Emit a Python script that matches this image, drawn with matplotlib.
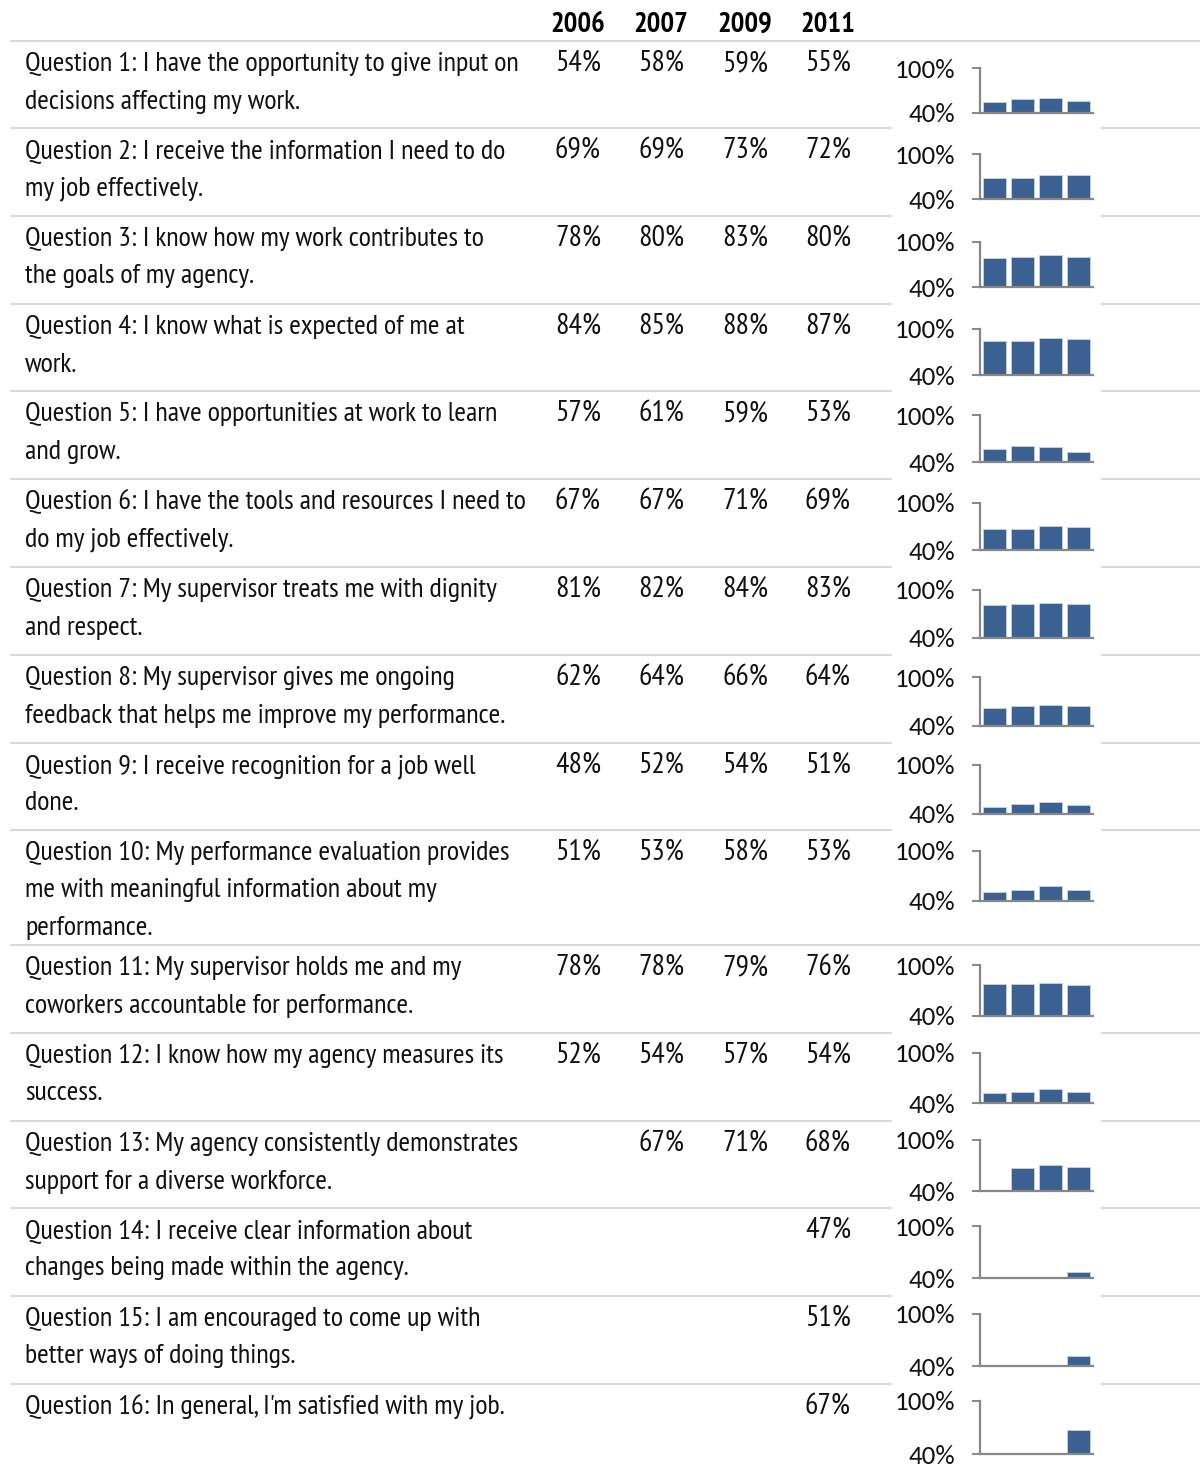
import matplotlib
matplotlib.use("Agg")
import matplotlib.pyplot as plt
from matplotlib import font_manager as fm
from matplotlib.textpath import TextPath
from matplotlib.font_manager import FontProperties

# ---------------- data ----------------
years = ["2006", "2007", "2009", "2011"]
questions = [
    "Question 1: I have the opportunity to give input on\ndecisions affecting my work.",
    "Question 2: I receive the information I need to do\nmy job effectively.",
    "Question 3: I know how my work contributes to\nthe goals of my agency.",
    "Question 4: I know what is expected of me at\nwork.",
    "Question 5: I have opportunities at work to learn\nand grow.",
    "Question 6: I have the tools and resources I need to\ndo my job effectively.",
    "Question 7: My supervisor treats me with dignity\nand respect.",
    "Question 8: My supervisor gives me ongoing\nfeedback that helps me improve my performance.",
    "Question 9: I receive recognition for a job well\ndone.",
    "Question 10: My performance evaluation provides\nme with meaningful information about my\nperformance.",
    "Question 11: My supervisor holds me and my\ncoworkers accountable for performance.",
    "Question 12: I know how my agency measures its\nsuccess.",
    "Question 13: My agency consistently demonstrates\nsupport for a diverse workforce.",
    "Question 14: I receive clear information about\nchanges being made within the agency.",
    "Question 15: I am encouraged to come up with\nbetter ways of doing things.",
    "Question 16: In general, I'm satisfied with my job.",
]
v2006 = [54, 69, 78, 84, 57, 67, 81, 62, 48, 51, 78, 52, None, None, None, None]
v2007 = [58, 69, 80, 85, 61, 67, 82, 64, 52, 53, 78, 54, 67, None, None, None]
v2009 = [59, 73, 83, 88, 59, 71, 84, 66, 54, 58, 79, 57, 71, None, None, None]
v2011 = [55, 72, 80, 87, 53, 69, 83, 64, 51, 53, 76, 54, 68, 47, 51, 67]
series = [v2006, v2007, v2009, v2011]
y_min, y_max = 40, 100
y_tick_labels = ["40%", "100%"]

# ---------------- fonts ----------------
avail = {f.name for f in fm.fontManager.ttflist}
ref_line = "Question 1: I have the opportunity to give input on"
target_ratio = 493 / 21.0   # line width / cap height in the reference
cands = ["Fira Sans Extra Condensed", "Fira Sans Condensed", "Pragati Narrow",
         "Sofia Sans Condensed", "Sofia Sans Extra Condensed", "PT Sans Narrow",
         "Asap Condensed", "Roboto Condensed", "Open Sans Condensed",
         "Ubuntu Condensed", "Cabin Condensed", "Encode Sans Condensed",
         "Archivo Narrow", "IBM Plex Sans Condensed", "Liberation Sans Narrow"]
best, best_err = "DejaVu Sans", 1e9
for c in cands:
    if c not in avail:
        continue
    fp = FontProperties(family=c)
    w = TextPath((0, 0), ref_line, size=100, prop=fp).get_extents().width
    cap = TextPath((0, 0), "H", size=100, prop=fp).get_extents().height
    err = abs(w / cap - target_ratio)
    if err < best_err:
        best, best_err = c, err
qfont = best
tfont = next((f for f in ["Carlito", "Liberation Sans", "Arimo"] if f in avail), "DejaVu Sans")

# ---------------- layout (pixels) ----------------
W, H = 1200, 1465
fig = plt.figure(figsize=(W / 100, H / 100), dpi=100)
bg = fig.add_axes([0, 0, 1, 1])
bg.set_xlim(0, W)
bg.set_ylim(H, 0)
bg.axis("off")

def fit_size(s, family, target_w, weight="normal"):
    fp = FontProperties(family=family, weight=weight)
    w = TextPath((0, 0), s, size=72, prop=fp).get_extents().width
    return 72 * target_w / (w * 100 / 72)

qsize = fit_size(ref_line, qfont, 493)
hsize = fit_size("2006", qfont, 52, weight="bold")
vsize = fit_size("54%", qfont, 43)
tsize = fit_size("100%", tfont, 57)

header_line = 41
row_h = [87, 88, 88, 87, 88, 88, 88, 88, 87, 115, 88, 88, 87, 88, 88, 81]
tops = [header_line]
for h in row_h[:-1]:
    tops.append(tops[-1] + h)

col_x = [578, 661, 745, 828]
line_gap = 37.5
grid_col = "#d9d9d9"
bar_col = "#3A6192"
axis_col = "#878787"

for t in tops:
    bg.plot([10, W], [t, t], color=grid_col, lw=1.5, solid_capstyle="butt", zorder=1)

for x, yr in zip(col_x, years):
    bg.text(x, 32, yr, family=qfont, fontsize=hsize, weight="bold",
            ha="center", va="baseline", color="black")

for i, (q, T) in enumerate(zip(questions, tops)):
    for k, line in enumerate(q.split("\n")):
        bg.text(25, T + 30 + k * line_gap, line, family=qfont, fontsize=qsize,
                ha="left", va="baseline", color="#111111")
    for x, s in zip(col_x, series):
        if s[i] is not None:
            bg.text(x, T + 30, f"{s[i]}%", family=qfont, fontsize=vsize,
                    ha="center", va="baseline", color="#111111")
    bg.add_patch(plt.Rectangle((892, T + 4), 1101 - 892, 88, facecolor="white",
                               edgecolor="none", zorder=2))
    ax_l, ax_r = 980, 1093
    y100, y40 = T + 27 - 0.67 * i, T + 71.5 - 0.1 * i
    ax = fig.add_axes([ax_l / W, 1 - y40 / H, (ax_r - ax_l) / W, (y40 - y100) / H])
    ax.patch.set_alpha(0)
    xs = [j for j in range(4) if series[j][i] is not None]
    hs = [series[j][i] - y_min for j in xs]
    ax.bar(xs, hs, bottom=y_min, width=0.82, color=bar_col,
           edgecolor="#c8d2de", linewidth=0.6, zorder=2)
    ax.set_xlim(-0.5, 3.5)
    ax.set_ylim(y_min, y_max)
    for sp in ("top", "right"):
        ax.spines[sp].set_visible(False)
    for sp in ("left", "bottom"):
        ax.spines[sp].set_color(axis_col)
        ax.spines[sp].set_linewidth(1.6)
        ax.spines[sp].set_zorder(3)
    ax.set_xticks([])
    ax.set_yticks([y_min, y_max])
    ax.set_yticklabels(y_tick_labels, family=tfont, fontsize=tsize, color="#111111")
    ax.tick_params(axis="y", direction="out", length=5.8, width=1.4,
                   color=axis_col, pad=12)

fig.savefig("out.png", dpi=100)
